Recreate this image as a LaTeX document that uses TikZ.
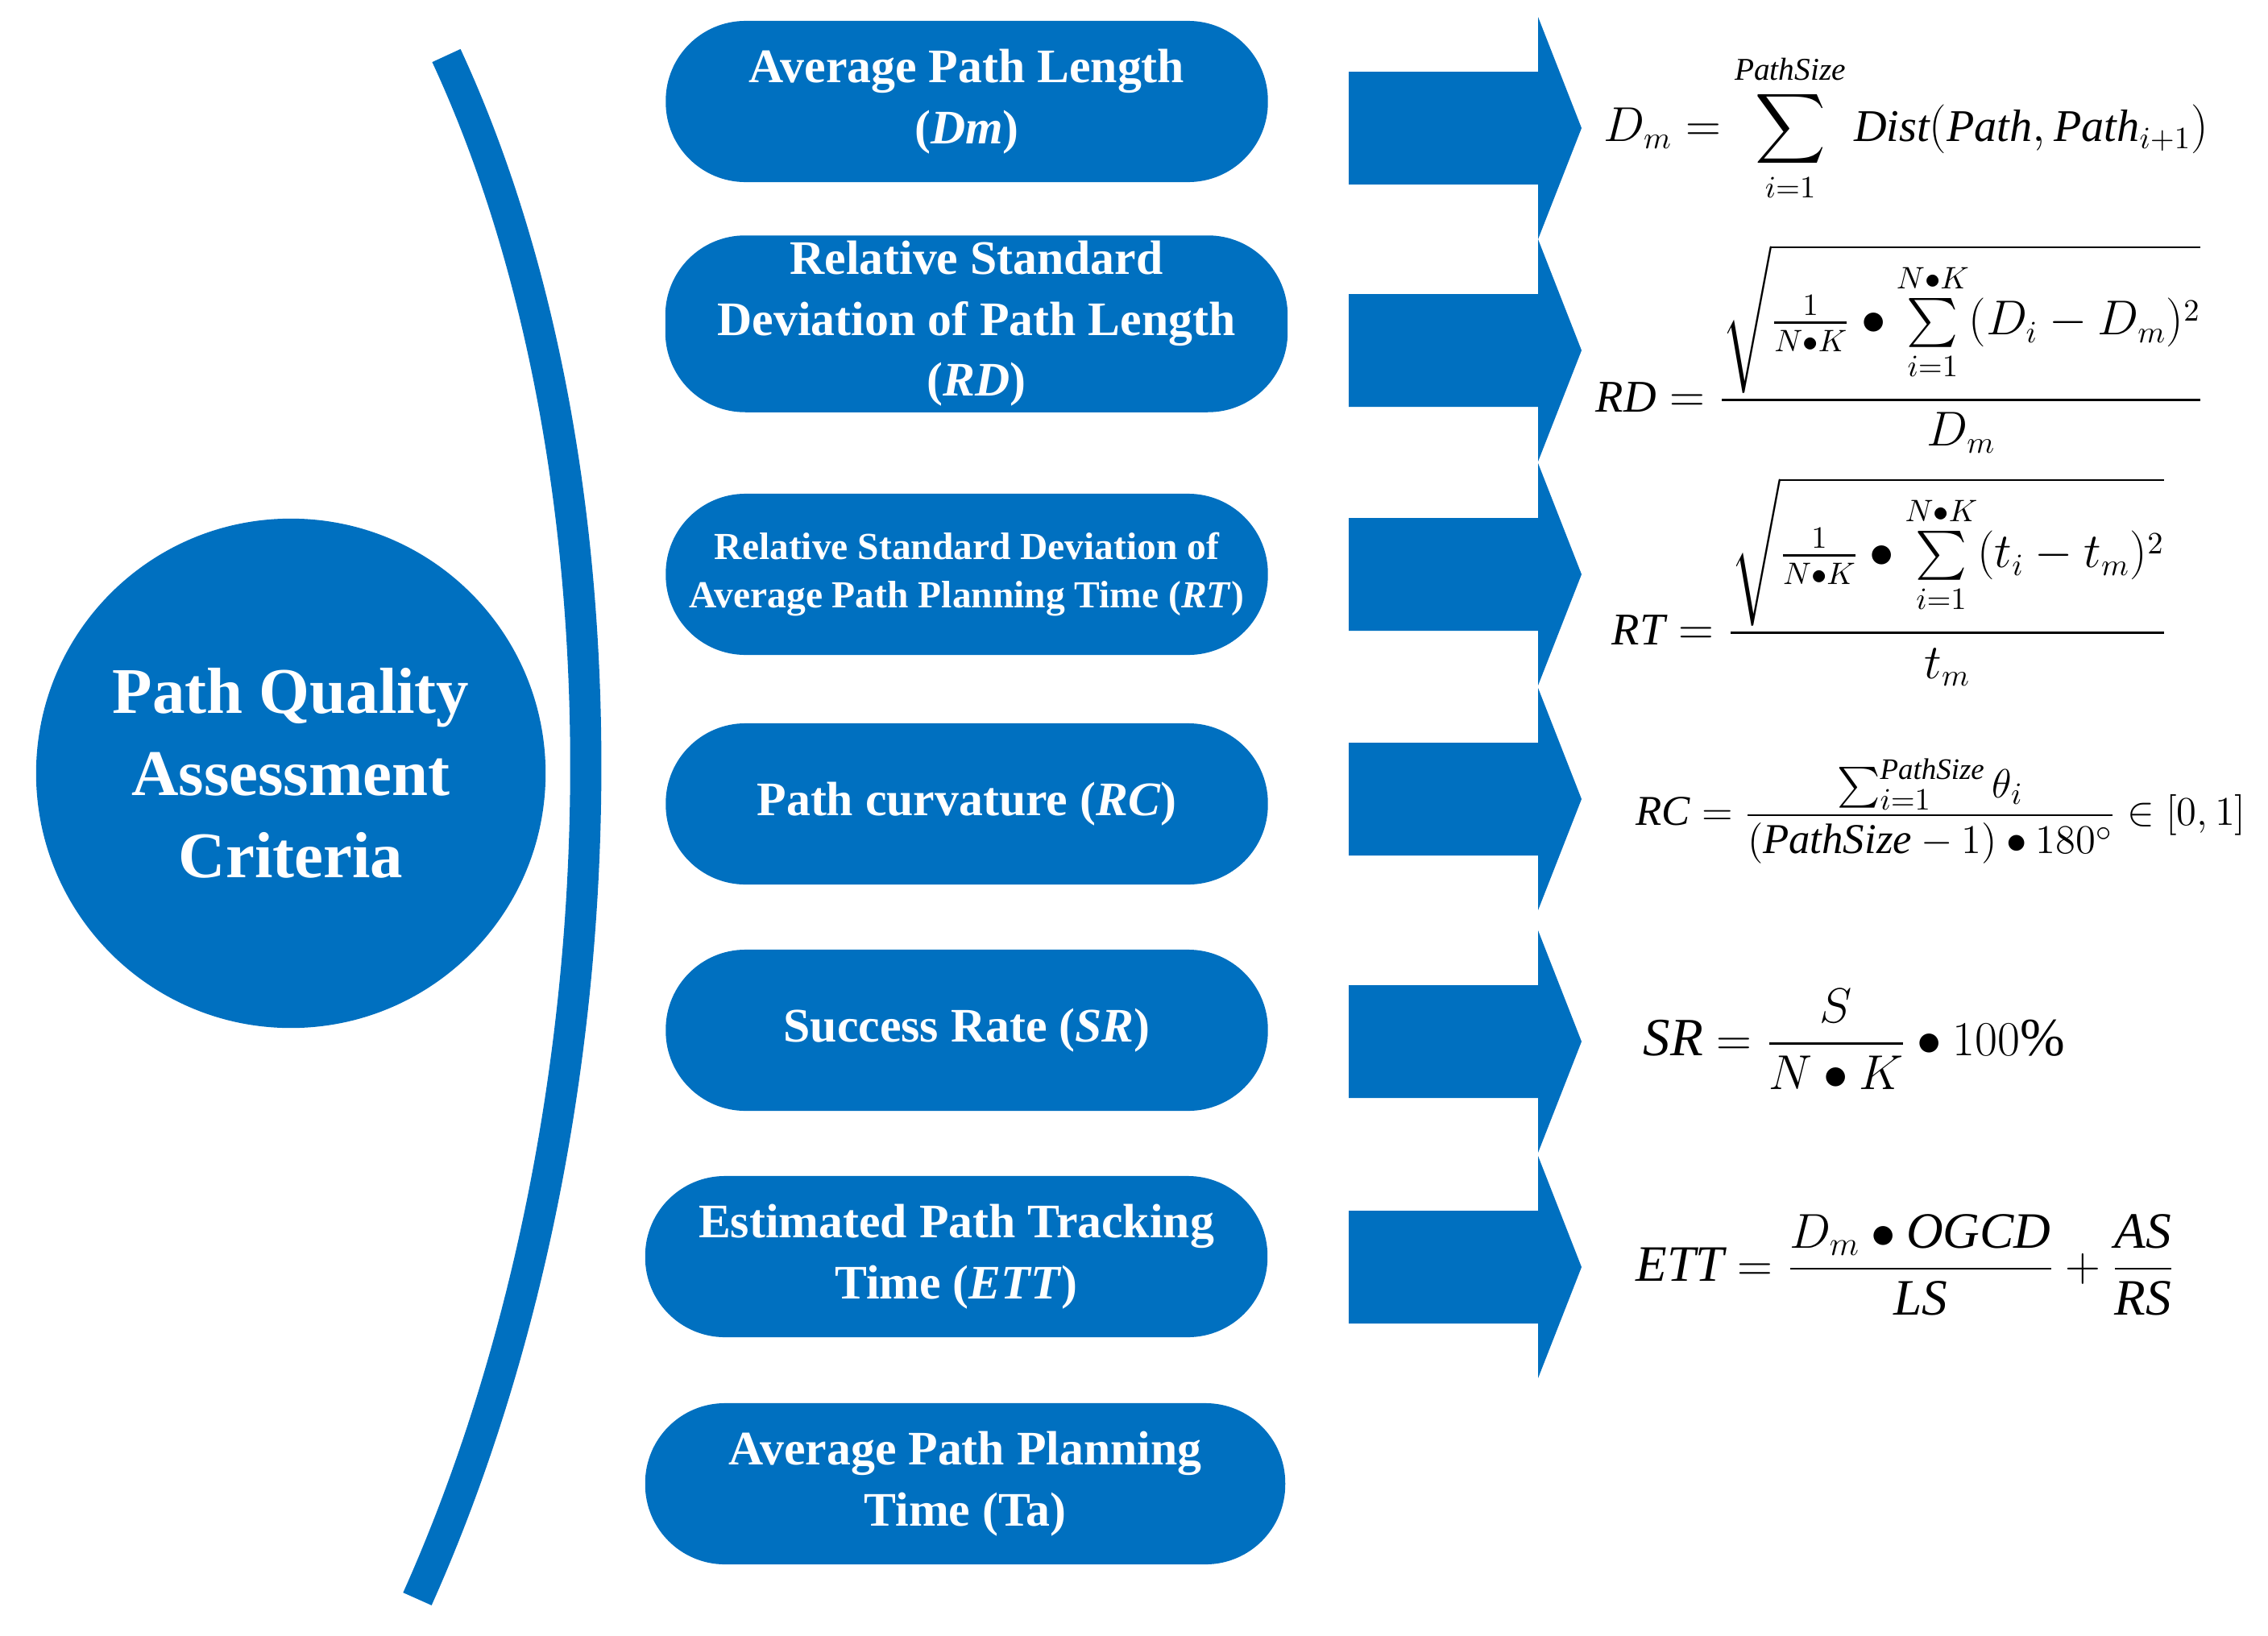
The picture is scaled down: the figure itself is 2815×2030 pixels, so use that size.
\documentclass[tikz,border=0pt]{standalone}
\usepackage{fontspec}
\usepackage{amsmath}
\setmainfont{Liberation Serif}
\definecolor{mblue}{HTML}{0070C0}
\begin{document}
\begin{tikzpicture}[x=0.01cm,y=-0.01cm,
  box/.style={fill=mblue,rounded corners=0.99cm,minimum height=2cm,text=white,font=\bfseries\fontsize{17}{21.5}\selectfont,align=center,inner sep=2pt},
  arr/.style={fill=mblue},
  fm/.style={font=\fontsize{16}{20}\selectfont,anchor=west,inner sep=0pt}]
\useasboundingbox (0,0) rectangle (2815,2030);
\node[circle,fill=mblue,minimum size=6.32cm,text=white,align=center,font=\bfseries\fontsize{23}{29}\selectfont] (c) at (361,960) {Path Quality\\Assessment\\Criteria};
\coordinate (a1) at (554,69); \coordinate (a2) at (518,1985);
\draw[mblue,line width=11] (a1) .. controls (800,600) and (780,1400) .. (a2);
\node[box,minimum width=7.47cm] (b1) at (1200,126) {Average Path Length\\(\textit{Dm})};
\node[box,minimum width=7.72cm] (b2) at (1212,402) {Relative Standard\\Deviation of Path Length\\(\textit{RD})};
\node[box,minimum width=7.47cm,font=\bfseries\fontsize{13.5}{17}\selectfont] (b3) at (1200,713) {Relative Standard Deviation of\\Average Path Planning Time (\textit{RT})};
\node[box,minimum width=7.47cm] (b4) at (1200,998) {Path curvature (\textit{RC})};
\node[box,minimum width=7.47cm] (b5) at (1200,1279) {Success Rate (\textit{SR})};
\node[box,minimum width=7.72cm] (b6) at (1187,1560) {Estimated Path Tracking\\Time (\textit{ETT})};
\node[box,minimum width=7.94cm] (b7) at (1198,1842) {Average Path Planning\\Time (Ta)};
\foreach \y in {159,435,713,992,1293,1573}{
  \fill[arr] (1674,\y-70) -- (1909,\y-70) -- (1909,\y-138) -- (1963,\y) -- (1909,\y+138) -- (1909,\y+70) -- (1674,\y+70) -- cycle;}
\node[fm] (f1) at (1990,159) {$\displaystyle D_m=\sum_{i=1}^{\mathit{PathSize}}\mathit{Dist}(\mathit{Path},\mathit{Path}_{i+1})$};
\node[fm] (f2) at (1980,433) {$\displaystyle \mathit{RD}=\frac{\sqrt{\frac{1}{N\bullet K}\bullet\sum\limits_{i=1}^{N\bullet K}(D_i-D_m)^2}}{D_m}$};
\node[fm] (f3) at (2000,722) {$\displaystyle \mathit{RT}=\frac{\sqrt{\frac{1}{N\bullet K}\bullet\sum\limits_{i=1}^{N\bullet K}(t_i-t_m)^2}}{t_m}$};
\node[fm,font=\fontsize{15}{19}\selectfont] (f4) at (2030,1007) {$\displaystyle \mathit{RC}=\frac{\sum_{i=1}^{\mathit{PathSize}}\theta_i}{(\mathit{PathSize}-1)\bullet 180^{\circ}}\in[0,1]$};
\node[fm,font=\fontsize{19}{23}\selectfont] (f5) at (2039,1290) {$\displaystyle \mathit{SR}=\frac{S}{N\bullet K}\bullet 100\%$};
\node[fm,font=\fontsize{18}{22}\selectfont] (f6) at (2030,1570) {$\displaystyle \mathit{ETT}=\frac{D_m\bullet \mathit{OGCD}}{\mathit{LS}}+\frac{\mathit{AS}}{\mathit{RS}}$};
\end{tikzpicture}
\end{document}
